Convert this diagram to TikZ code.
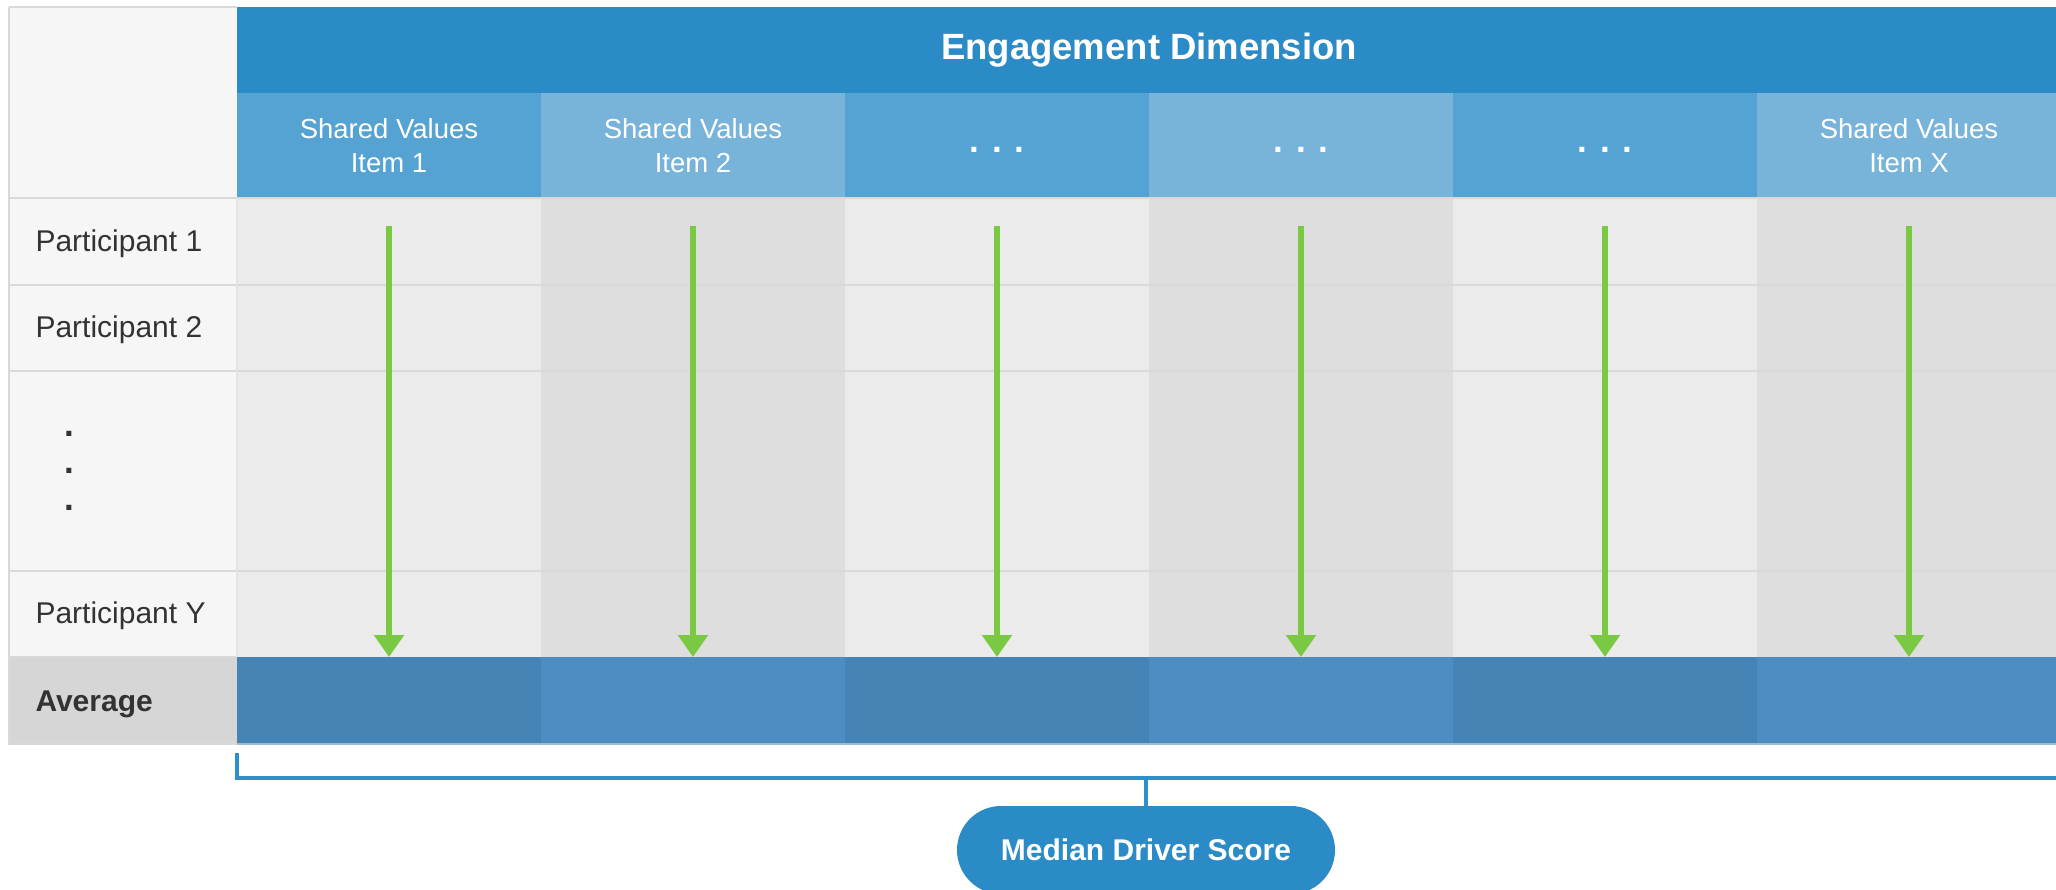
\documentclass[tikz,border=0pt]{standalone}
\usepackage{fontspec}
\setmainfont{Liberation Sans}
\usetikzlibrary{arrows.meta,shapes.misc}
\definecolor{hdr}{HTML}{2B8BC6}
\definecolor{subA}{HTML}{55A3D2}
\definecolor{subB}{HTML}{78B4DA}
\definecolor{bodyA}{HTML}{EBEBEB}
\definecolor{bodyB}{HTML}{DEDEDE}
\definecolor{leftbg}{HTML}{F6F6F6}
\definecolor{avgleft}{HTML}{D6D6D6}
\definecolor{avgA}{HTML}{4784B6}
\definecolor{avgB}{HTML}{4D8DC2}
\definecolor{grn}{HTML}{7AC943}
\definecolor{gridc}{HTML}{D9D9D9}
\definecolor{labc}{HTML}{333333}
\definecolor{brc}{HTML}{2F8FCB}
\tikzset{
  gridline/.style={draw=gridc, line width=0.8pt},
  avgcell/.style={rectangle, inner sep=0pt, outer sep=0pt, minimum width=121.6pt, minimum height=34.8pt},
  garrow/.style={draw=grn, line width=2.4pt, -{Triangle[length=8.8pt,width=11.6pt]}},
  rowlab/.style={anchor=west, text=labc, font=\fontsize{12}{14}\selectfont, inner sep=0pt},
  sublab/.style={text=white, align=center, font=\fontsize{11}{13.6}\selectfont},
  bracketline/.style={draw=brc, line width=1.3pt},
  pill/.style={rounded rectangle, fill=hdr, inner sep=0pt, minimum width=151.2pt, minimum height=35.2pt, text=white, font=\bfseries\fontsize{12}{14}\selectfont},
}
\begin{document}
\begin{tikzpicture}[x=0.4pt,y=-0.4pt]
\useasboundingbox (0,0) rectangle (2056,889);
\clip (0,0) rectangle (2056,889);
% left column
\fill[leftbg] (9,7) rectangle (237,657);
\fill[avgleft] (9,657) rectangle (237,744);
% header band
\fill[hdr] (237,7) rectangle (2061,93);
\node[text=white, font=\bfseries\fontsize{14.6}{17}\selectfont] (title) at (1149,50) {Engagement Dimension};
% columns
\foreach \i/\sc/\bc/\ac in {1/subA/bodyA/avgA,2/subB/bodyB/avgB,3/subA/bodyA/avgA,4/subB/bodyB/avgB,5/subA/bodyA/avgA,6/subB/bodyB/avgB}{
  \pgfmathsetmacro{\L}{237+(\i-1)*304}
  \pgfmathsetmacro{\C}{\L+152}
  \fill[\sc] (\L,93) rectangle (\L+304,198);
  \fill[\bc] (\L,198) rectangle (\L+304,657);
  \node[avgcell, fill=\ac] (avg\i) at (\C,700.5) {};
  \coordinate (s\i) at (\C,226);
}
% grid lines
\draw[gridline] (9,198) -- (2056,198);
\draw[gridline] (9,285) -- (2056,285);
\draw[gridline] (9,371) -- (2056,371);
\draw[gridline] (9,571) -- (2056,571);
\draw[draw=gridc, line width=0.6pt] (9,657) -- (237,657);
\draw[draw=gridc, line width=0.8pt] (9,7) -- (237,7);
\draw[draw=gridc, line width=0.8pt] (9,7) -- (9,744) -- (237,744);
\draw[draw=gridc!70!white, line width=0.8pt] (237,198) -- (237,657);
\draw[draw=gridc!60!avgB, line width=0.6pt] (237,744) -- (2056,744);
% header labels
\node[sublab] (h1) at (389,146) {Shared Values\\Item 1};
\node[sublab] (h2) at (693,146) {Shared Values\\Item 2};
\node[text=white, font=\bfseries\fontsize{14}{16}\selectfont, anchor=base] (h3) at (997,152) {.\hspace{5.2pt}.\hspace{5.2pt}.};
\node[text=white, font=\bfseries\fontsize{14}{16}\selectfont, anchor=base] (h4) at (1301,152) {.\hspace{5.2pt}.\hspace{5.2pt}.};
\node[text=white, font=\bfseries\fontsize{14}{16}\selectfont, anchor=base] (h5) at (1605,152) {.\hspace{5.2pt}.\hspace{5.2pt}.};
\node[sublab] (h6) at (1909,146) {Shared Values\\Item X};
% row labels
\node[rowlab] (p1) at (35,244) {Participant 1};
\node[rowlab] (p2) at (35,330) {Participant 2};
\node[text=labc, font=\bfseries\fontsize{14}{16}\selectfont, anchor=base] (d1) at (69,436) {.};
\node[text=labc, font=\bfseries\fontsize{14}{16}\selectfont, anchor=base] (d2) at (69,473) {.};
\node[text=labc, font=\bfseries\fontsize{14}{16}\selectfont, anchor=base] (d3) at (69,510) {.};
\node[rowlab] (py) at (35,616) {Participant Y};
\node[rowlab, font=\bfseries\fontsize{12}{14}\selectfont] (avglab) at (35,704) {Average};
% arrows
\foreach \i in {1,...,6}{
  \draw[garrow] (s\i) -- (avg\i.north);
}
% bracket
\coordinate (brL) at (237,753);
\coordinate (brR) at (2060,778);
\coordinate (brM) at (1146,778);
\draw[bracketline] (brL) |- (brR);
\node[pill] (median) at (1146,850) {Median Driver Score};
\draw[bracketline] (brM) -- (median.north);
\end{tikzpicture}
\end{document}
